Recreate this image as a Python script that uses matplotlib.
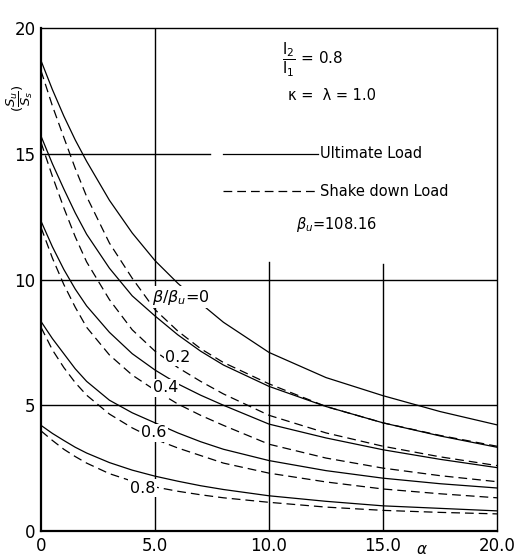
import matplotlib
matplotlib.use("Agg")
import matplotlib.pyplot as plt

# values (alpha on x, Su/Ss on y)
alpha = [0, 0.5, 1, 1.5, 2, 3, 4, 5, 6, 7, 8, 10, 12.5, 15, 17.5, 20]

beta_ratio = [0, 0.2, 0.4, 0.6, 0.8]

# ultimate load curves (solid)
ultimate_00 = [18.7, 17.55, 16.5, 15.55, 14.7, 13.15, 11.85, 10.75, 9.85, 9.05, 8.3, 7.1, 6.1, 5.38, 4.75, 4.22]
ultimate_02 = [15.7, 14.6, 13.6, 12.65, 11.8, 10.45, 9.35, 8.55, 7.8, 7.15, 6.6, 5.75, 4.95, 4.3, 3.78, 3.33]
ultimate_04 = [12.32, 11.3, 10.4, 9.62, 8.95, 7.9, 7.05, 6.4, 5.85, 5.4, 5.0, 4.25, 3.7, 3.23, 2.85, 2.52]
ultimate_06 = [8.33, 7.65, 7.05, 6.45, 5.95, 5.2, 4.7, 4.3, 3.9, 3.55, 3.25, 2.8, 2.4, 2.1, 1.88, 1.71]
ultimate_08 = [4.2, 3.88, 3.6, 3.33, 3.1, 2.72, 2.42, 2.18, 1.98, 1.8, 1.65, 1.4, 1.18, 1.0, 0.9, 0.8]

# shake down load curves (dashed)
shake_00 = [18.3, 16.9, 15.65, 14.42, 13.3, 11.45, 10.05, 8.8, 7.95, 7.25, 6.7, 5.85, 4.95, 4.3, 3.8, 3.37]
shake_02 = [15.45, 14.1, 12.85, 11.7, 10.7, 9.2, 8.0, 7.15, 6.5, 5.95, 5.45, 4.6, 3.9, 3.37, 2.95, 2.6]
shake_04 = [12.07, 10.85, 9.8, 8.9, 8.1, 7.0, 6.2, 5.6, 5.05, 4.6, 4.2, 3.45, 2.9, 2.5, 2.2, 1.96]
shake_06 = [8.1, 7.2, 6.5, 5.9, 5.4, 4.65, 4.1, 3.65, 3.3, 3.0, 2.7, 2.3, 1.95, 1.67, 1.48, 1.32]
shake_08 = [3.98, 3.6, 3.25, 2.96, 2.7, 2.28, 1.98, 1.75, 1.58, 1.44, 1.32, 1.14, 0.95, 0.82, 0.74, 0.68]

ultimate = [ultimate_00, ultimate_02, ultimate_04, ultimate_06, ultimate_08]
shake = [shake_00, shake_02, shake_04, shake_06, shake_08]

curve_labels = [r"$\beta/\beta_u$=0", "0.2", "0.4", "0.6", "0.8"]
label_pos = [(6.15, 9.3), (6.0, 6.9), (5.45, 5.7), (4.95, 3.9), (4.45, 1.7)]

xticks = [0, 5, 10, 15, 20]
xtick_labels = ["0", "5.0", "10.0", "15.0", "20.0"]
yticks = [0, 5, 10, 15, 20]

plt.rcParams["font.family"] = "DejaVu Sans"
plt.rcParams["mathtext.fontset"] = "dejavusans"

fig = plt.figure(figsize=(5.16, 5.58), dpi=100)
ax = fig.add_axes([0.0795, 0.0484, 0.8837, 0.9014])
ax.set_xlim(0, 20)
ax.set_ylim(0, 20)

# partial grid as in the original drawing
ax.axhline(5, color="black", lw=1.0)
ax.axhline(10, color="black", lw=1.0)
ax.plot([0, 7.4], [15, 15], color="black", lw=1.0)
ax.axvline(5, color="black", lw=1.0)
ax.plot([10, 10], [0, 10.7], color="black", lw=1.0)
ax.plot([15, 15], [0, 10.6], color="black", lw=1.0)

# curves
for u, s in zip(ultimate, shake):
    ax.plot(alpha, u, color="black", lw=0.9)
    ax.plot(alpha, s, color="black", lw=0.9, dashes=(7, 4))

# curve labels with white box so the lines break under them
for txt, (x, y) in zip(curve_labels, label_pos):
    ax.text(x, y, txt, fontsize=11.5, ha="center", va="center",
            bbox=dict(facecolor="white", edgecolor="none", pad=1.0), zorder=5)

# legend drawn by hand
ax.plot([8.0, 12.15], [15, 15], color="black", lw=0.9)
ax.text(12.25, 15, "Ultimate Load", fontsize=10.5, va="center")
ax.plot([8.0, 12.15], [13.5, 13.5], color="black", lw=0.9, dashes=(7, 4))
ax.text(12.25, 13.5, "Shake down Load", fontsize=10.5, va="center")

ax.text(10.55, 18.75, r"$\dfrac{\mathrm{l}_2}{\mathrm{l}_1}$ = 0.8", fontsize=11, va="center")
ax.text(10.85, 17.3, "\u03ba =  \u03bb = 1.0", fontsize=10.5, va="center")
ax.text(11.2, 12.2, r"$\beta_u$=108.16", fontsize=10.5, va="center")

ax.set_xticks(xticks)
ax.set_xticklabels(xtick_labels)
ax.set_yticks(yticks)
ax.tick_params(length=0, labelsize=12, pad=4)

ax.text(-0.95, 17.2, r"$(\dfrac{S_u}{S_s})$", fontsize=9.5, rotation=90,
        ha="center", va="center")
ax.text(16.7, -0.75, r"$\alpha$", fontsize=11, ha="center", va="center")

for side in ["left", "bottom"]:
    ax.spines[side].set_linewidth(1.6)
for side in ["top", "right"]:
    ax.spines[side].set_linewidth(1.0)

plt.savefig("out.png", dpi=100)
